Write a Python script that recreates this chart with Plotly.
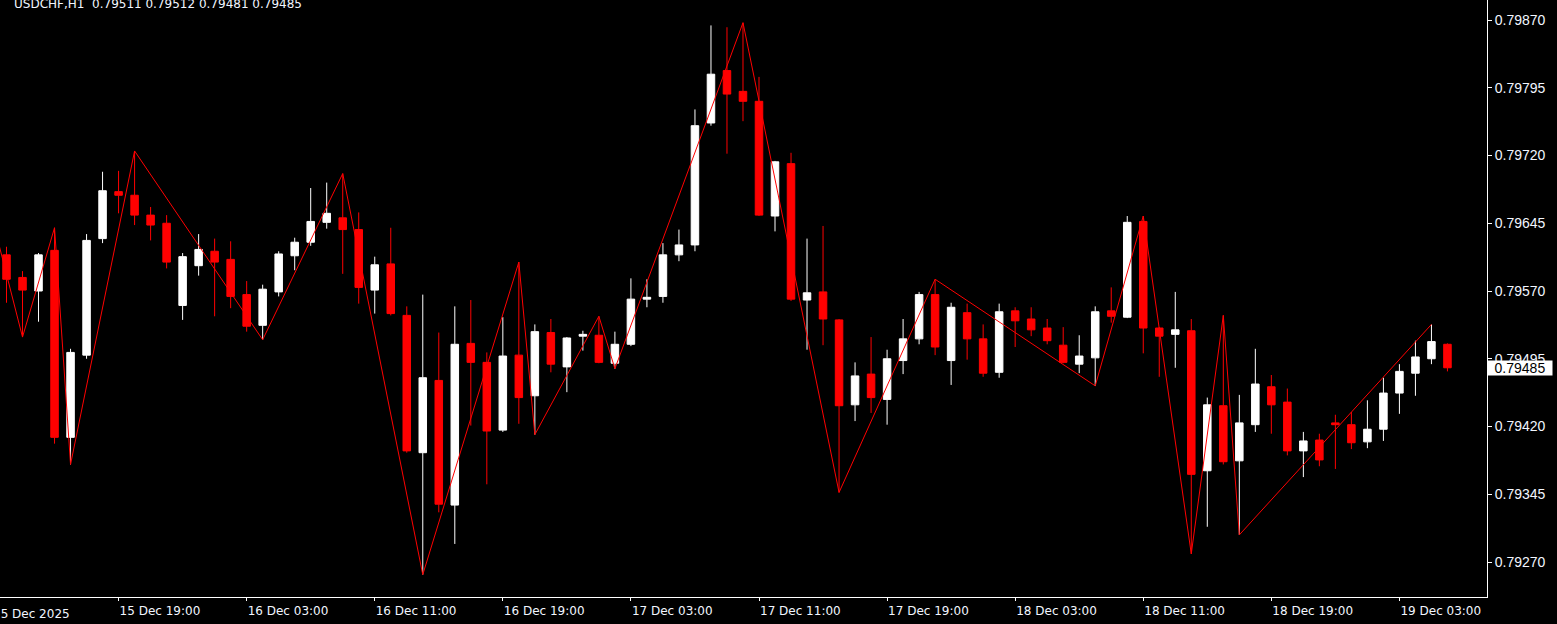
import plotly.graph_objects as go

# ---- data (USDCHF H1, prices in 1e-5 points) ----
opens = [79610, 79585, 79570, 79615, 79408, 79499, 79628, 79680, 79676, 79654,
         79645, 79554, 79598, 79614, 79605, 79566, 79532, 79569, 79609, 79624,
         79646, 79651, 79638, 79571, 79600, 79543, 79391, 79471, 79333, 79512,
         79491, 79416, 79499, 79454, 79524, 79486, 79520, 79521, 79490, 79511,
         79561, 79564, 79610, 79621, 79756, 79814, 79791, 79780, 79653, 79711,
         79560, 79569, 79538, 79444, 79478, 79450, 79493, 79517, 79566, 79493,
         79546, 79517, 79480, 79548, 79539, 79529, 79510, 79489, 79496, 79548,
         79541, 79647, 79529, 79522, 79526, 79371, 79443, 79382, 79422, 79464,
         79447, 79393, 79405, 79424, 79422, 79403, 79417, 79457, 79479, 79495,
         79511]
highs = [79619, 79592, 79612, 79640, 79506, 79633, 79702, 79703, 79725, 79663,
         79654, 79612, 79633, 79628, 79625, 79581, 79577, 79614, 79629, 79684,
         79690, 79700, 79657, 79608, 79640, 79553, 79566, 79524, 79553, 79560,
         79502, 79541, 79602, 79533, 79539, 79519, 79526, 79542, 79525, 79584,
         79583, 79623, 79638, 79771, 79864, 79862, 79867, 79807, 79714, 79723,
         79628, 79642, 79539, 79491, 79519, 79505, 79539, 79569, 79583, 79557,
         79556, 79533, 79556, 79552, 79552, 79539, 79530, 79521, 79553, 79574,
         79653, 79653, 79530, 79569, 79539, 79452, 79543, 79455, 79506, 79477,
         79462, 79414, 79412, 79433, 79436, 79449, 79474, 79489, 79515, 79533,
         79512]
lows = [79557, 79519, 79536, 79401, 79378, 79495, 79623, 79656, 79643, 79626,
        79595, 79538, 79587, 79542, 79551, 79525, 79516, 79564, 79593, 79620,
        79639, 79589, 79556, 79545, 79543, 79391, 79256, 79325, 79290, 79421,
        79356, 79414, 79423, 79411, 79480, 79458, 79504, 79490, 79484, 79509,
        79552, 79557, 79603, 79614, 79753, 79722, 79758, 79653, 79636, 79559,
        79505, 79510, 79347, 79426, 79435, 79422, 79478, 79511, 79499, 79466,
        79494, 79475, 79474, 79508, 79520, 79511, 79490, 79479, 79465, 79535,
        79540, 79501, 79475, 79485, 79279, 79309, 79378, 79300, 79414, 79412,
        79388, 79364, 79376, 79373, 79395, 79396, 79404, 79434, 79454, 79489,
        79481]
closes = [79583, 79571, 79610, 79408, 79502, 79626, 79681, 79676, 79654, 79643,
          79602, 79608, 79616, 79602, 79564, 79531, 79572, 79611, 79624, 79647,
          79656, 79638, 79574, 79599, 79545, 79393, 79474, 79334, 79511, 79491,
          79415, 79498, 79452, 79525, 79489, 79518, 79522, 79491, 79511, 79561,
          79563, 79610, 79621, 79753, 79810, 79788, 79780, 79654, 79713, 79561,
          79568, 79539, 79443, 79476, 79452, 79495, 79517, 79566, 79508, 79552,
          79517, 79479, 79547, 79537, 79527, 79515, 79491, 79498, 79547, 79542,
          79646, 79529, 79520, 79527, 79367, 79444, 79381, 79424, 79467, 79444,
          79393, 79404, 79383, 79422, 79402, 79417, 79457, 79481, 79497, 79514,
          79485]

# zigzag pivots: bar index, kind ('H' high / 'L' low); first pivot lies off-screen left
zigzag_start_index = -1
zigzag_start_price = 79658
zigzag_pivots = [1, 3, 4, 8, 16, 21, 26, 32, 33, 37, 38, 46, 52, 58, 68, 71, 74, 76, 77, 89]
zigzag_kinds = ['L', 'H', 'L', 'H', 'L', 'H', 'L', 'H', 'L', 'H', 'L', 'H', 'L', 'H', 'L', 'H', 'L', 'H', 'L', 'H']

x_tick_bars = [7, 15, 23, 31, 39, 47, 55, 63, 71, 79, 87]
x_tick_labels = ["15 Dec 19:00", "16 Dec 03:00", "16 Dec 11:00", "16 Dec 19:00",
                 "17 Dec 03:00", "17 Dec 11:00", "17 Dec 19:00", "18 Dec 03:00",
                 "18 Dec 11:00", "18 Dec 19:00", "19 Dec 03:00"]
first_date_label = "15 Dec 2025"
y_tick_values = [0.79270, 0.79345, 0.79420, 0.79495, 0.79570, 0.79645, 0.79720, 0.79795, 0.79870]
symbol_title = "USDCHF,H1"
last_price = 0.79485

SCALE = 1e-5
o = [v * SCALE for v in opens]
h = [v * SCALE for v in highs]
l = [v * SCALE for v in lows]
c = [v * SCALE for v in closes]
xs = list(range(len(o)))

zx = [zigzag_start_index] + zigzag_pivots
zy = [zigzag_start_price * SCALE] + [h[i] if k == 'H' else l[i] for i, k in zip(zigzag_pivots, zigzag_kinds)]

FONT = "DejaVu Sans"
YFONT = "Liberation Sans"
TXT = "#f2f6ff"

fig = go.Figure()
fig.add_trace(go.Candlestick(
    x=xs, open=o, high=h, low=l, close=c,
    increasing=dict(line=dict(color="#ffffff", width=1), fillcolor="#ffffff"),
    decreasing=dict(line=dict(color="#ff0000", width=1), fillcolor="#ff0000"),
    whiskerwidth=0, hoverinfo="skip", showlegend=False,
))
fig.add_trace(go.Scatter(
    x=zx, y=zy, mode="lines", line=dict(color="#ff0000", width=1),
    hoverinfo="skip", showlegend=False,
))

fig.update_layout(
    width=1557, height=624,
    paper_bgcolor="#000000", plot_bgcolor="#000000",
    margin=dict(l=0, r=70, t=0, b=27, pad=0),
    boxgap=0.33,
    showlegend=False,
    xaxis=dict(
        range=[-0.406, 92.47], showgrid=False, zeroline=False,
        showline=True, linecolor="#ffffff", linewidth=1,
        ticks="outside", ticklen=3, tickcolor="#ffffff", tickwidth=1,
        tickvals=x_tick_bars, ticktext=x_tick_labels,
        ticklabelposition="outside right", ticklabelstandoff=3,
        tickfont=dict(family=FONT, size=12, color=TXT),
        rangeslider=dict(visible=False), automargin=False, fixedrange=True,
    ),
    yaxis=dict(
        side="right", range=[0.7923125, 0.7989214], showgrid=False, zeroline=False,
        showline=True, linecolor="#ffffff", linewidth=1,
        ticks="outside", ticklen=4, tickcolor="#ffffff", tickwidth=1,
        tickvals=y_tick_values, ticktext=["%.5f" % v for v in y_tick_values],
        tickfont=dict(family=YFONT, size=14, color=TXT),
        automargin=False, fixedrange=True,
    ),
    annotations=[
        dict(xref="paper", yref="paper", x=0, y=1, xanchor="left", yanchor="top",
             xshift=12, yshift=5, showarrow=False,
             text=f"{symbol_title}  {opens[-1]*SCALE:.5f} {highs[-1]*SCALE:.5f} {lows[-1]*SCALE:.5f} {closes[-1]*SCALE:.5f}",
             font=dict(family=FONT, size=12, color=TXT)),
        dict(xref="paper", yref="paper", x=-9.5 / 1487, y=0, xanchor="left", yanchor="top",
             yshift=-8, showarrow=False, text=first_date_label,
             font=dict(family=FONT, size=12, color=TXT)),
        dict(xref="paper", yref="y", x=1, y=last_price, xanchor="left", yanchor="middle",
             xshift=0, showarrow=False, text=f"{last_price:.5f}", width=64, height=14,
             align="center", valign="middle",
             bgcolor="#ffffff", borderpad=0, font=dict(family=YFONT, size=14, color="#000000")),
    ],
)

fig.write_html("out.html", config={"displayModeBar": False},
               post_script="document.body.style.margin='0';document.body.style.overflow='hidden';")
